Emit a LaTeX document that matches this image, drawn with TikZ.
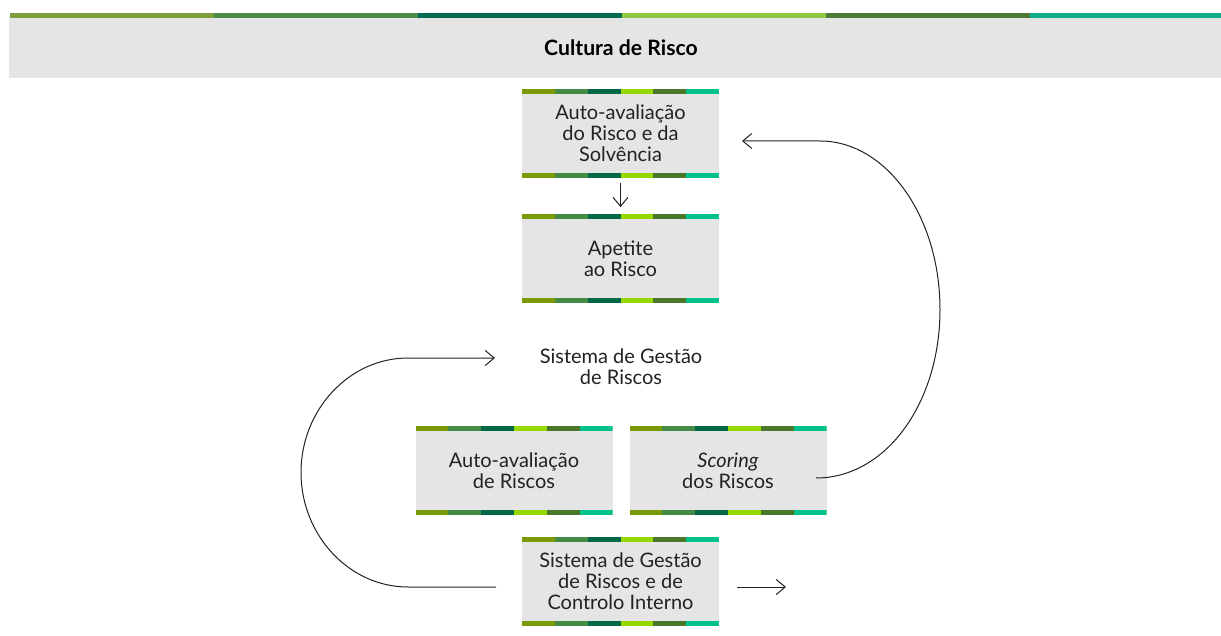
\documentclass[tikz,border=0pt]{standalone}
\usepackage{fontspec}
\setmainfont{Lato}
\usepackage{tikz}
\usetikzlibrary{arrows.meta}

\definecolor{bandA}{RGB}{124,158,60}
\definecolor{bandB}{RGB}{74,140,71}
\definecolor{bandC}{RGB}{0,107,79}
\definecolor{bandD}{RGB}{141,198,63}
\definecolor{bandE}{RGB}{78,122,53}
\definecolor{bandF}{RGB}{11,176,138}
\definecolor{rkA}{RGB}{122,154,1}
\definecolor{rkB}{RGB}{69,139,69}
\definecolor{rkC}{RGB}{0,103,71}
\definecolor{rkD}{RGB}{151,215,0}
\definecolor{rkE}{RGB}{74,119,41}
\definecolor{rkF}{RGB}{0,194,138}
\definecolor{boxgray}{RGB}{229,229,230}
\definecolor{inkgray}{RGB}{34,34,34}

\begin{document}
\begin{tikzpicture}[x=0.5pt,y=-0.5pt,
    every node/.style={font=\fontsize{10}{10.6}\selectfont, text=inkgray},
    riskbox/.style={fill=boxgray, minimum width=98.5pt, minimum height=44.5pt,
      inner sep=0pt, align=center,
      path picture={
        \foreach \c [count=\i from 0] in {rkA,rkB,rkC,rkD,rkE,rkF}{
          \fill[\c] ([xshift=\i*16.417pt]path picture bounding box.north west)
            rectangle ++(16.417pt,-2.5pt);
          \fill[\c] ([xshift=\i*16.417pt]path picture bounding box.south west)
            rectangle ++(16.417pt,2.5pt);
        }}},
    flow/.style={-{Straight Barb[length=4.5pt,width=7.5pt]}, line width=0.5pt, draw=inkgray}]
    \useasboundingbox (0,0) rectangle (1221,636);

    % title band
    \fill[boxgray] (9,18) rectangle (1221,78);
    \foreach \c [count=\i from 0] in {bandA,bandB,bandC,bandD,bandE,bandF}
      \fill[\c] (10+\i*204,13) rectangle ({min(214+\i*204,1221)},18);
    \node[font=\fontsize{10.6}{12}\selectfont\bfseries, text=black] (title) at (621,48) {Cultura de Risco};

    % boxes
    \node[riskbox] (orsa) at (620.5,133.5) {Auto-avaliação\\do Risco e da\\Solvência};
    \node[riskbox] (apetite) at (620.5,259) {Apetite\\ao Risco};
    \node[align=center] (sgr) at (621,367) {Sistema de Gestão\\de Riscos};
    \node[riskbox] (autoaval) at (514,470.5) {Auto-avaliação\\de Riscos};
    \node[riskbox] (scoring) at (728,470.5) {\itshape Scoring\\dos Riscos};
    \node[riskbox] (sgrci) at (620.5,581) {Sistema de Gestão\\de Riscos e de\\Controlo Interno};

    % connectors
    \coordinate (loopin) at (496,587);
    \coordinate (loopout) at (495,358);
    \coordinate (backin) at (816,478);
    \coordinate (backout) at (742,141);
    \coordinate (outA) at (737,587);
    \coordinate (outB) at (786,587);

    \draw[flow, shorten <=2.5pt, shorten >=3.5pt] (orsa.south) -- (apetite.north);
    \draw[flow] (loopin) -- (408,587) .. controls (349,587) and (301,535) .. (301,472.5)
      .. controls (301,410) and (349,358) .. (408,358) -- (loopout);
    \draw[flow] (backin) .. controls (886,478) and (940,403) .. (940,309.5)
      .. controls (940,216) and (886,141) .. (820,141) -- (backout);
    \draw[flow] (outA) -- (outB);
\end{tikzpicture}
\end{document}
